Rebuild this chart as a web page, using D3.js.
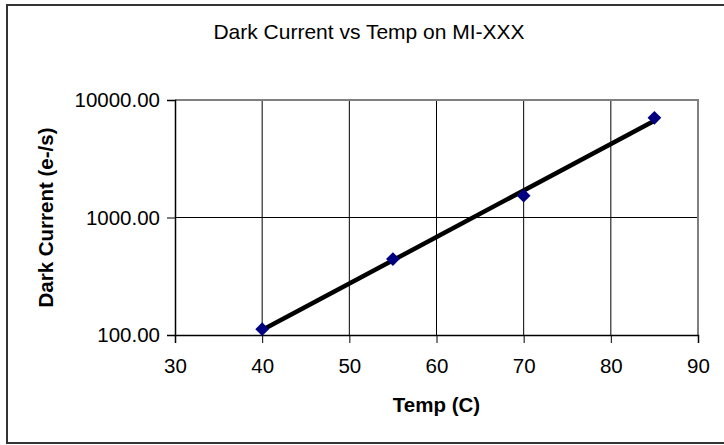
<!DOCTYPE html>
<html>
<head>
<meta charset="utf-8">
<script src="https://cdn.jsdelivr.net/npm/d3@7.9.0/dist/d3.min.js"></script>
<style>
  body { margin: 0; background: #fff; }
  svg { display: block; font-family: "Liberation Sans", Arial, sans-serif; }
</style>
</head>
<body>
<svg id="chart" width="724" height="445"></svg>
<script>
// data
const temps = [40, 55, 70, 85];
const darkCurrent = [112, 443, 1535, 7060];
const xTicks = [30, 40, 50, 60, 70, 80, 90];
const yTicks = [100, 1000, 10000];

const width = 724, height = 445;
const margin = { top: 100, right: 26, bottom: 110, left: 175 };

const svg = d3.select('#chart');

// outer chart frame
svg.append('rect')
  .attr('x', 7).attr('y', 5)
  .attr('width', 730).attr('height', 438)
  .attr('fill', '#fff')
  .attr('stroke', '#333').attr('stroke-width', 2);

const x = d3.scaleLinear()
  .domain([30, 90])
  .range([margin.left, width - margin.right]);

const y = d3.scaleLog()
  .domain([100, 10000])
  .range([height - margin.bottom, margin.top]);

// gridlines
svg.append('g')
  .selectAll('line')
  .data(xTicks.slice(1, -1))
  .join('line')
  .attr('x1', d => x(d)).attr('x2', d => x(d))
  .attr('y1', y(10000)).attr('y2', y(100))
  .attr('stroke', '#000').attr('stroke-width', 1);

svg.append('g')
  .selectAll('line')
  .data(yTicks.slice(1, -1))
  .join('line')
  .attr('x1', x(30)).attr('x2', x(90))
  .attr('y1', d => y(d)).attr('y2', d => y(d))
  .attr('stroke', '#000').attr('stroke-width', 1);

// plot area border (top / right)
svg.append('path')
  .attr('d', `M${x(30)},${y(10000)}H${x(90)}V${y(100)}`)
  .attr('fill', 'none')
  .attr('stroke', '#808080').attr('stroke-width', 2);

// axes
const xAxis = svg.append('g')
  .attr('transform', `translate(0,${y(100)})`)
  .call(d3.axisBottom(x).tickValues(xTicks).tickSize(8).tickPadding(15));

const yAxis = svg.append('g')
  .attr('transform', `translate(${x(30)},0)`)
  .call(d3.axisLeft(y).tickValues(yTicks).tickFormat(d3.format('.2f')).tickSize(8).tickPadding(7));

[xAxis, yAxis].forEach(g => {
  g.select('.domain').attr('stroke', '#000').attr('stroke-width', 1.5);
  g.selectAll('.tick line').attr('stroke', '#000');
  g.selectAll('text')
    .attr('fill', '#000')
    .style('font-size', '20.5px')
    .style('font-family', '"Liberation Sans", Arial, sans-serif');
});

// exponential trendline (least squares on log10 values)
const logs = darkCurrent.map(v => Math.log10(v));
const mx = d3.mean(temps), my = d3.mean(logs);
const slope = d3.sum(temps, (t, i) => (t - mx) * (logs[i] - my)) / d3.sum(temps, t => (t - mx) ** 2);
const fit = t => Math.pow(10, my + slope * (t - mx));

svg.append('line')
  .attr('x1', x(temps[0])).attr('y1', y(fit(temps[0])))
  .attr('x2', x(temps[temps.length - 1])).attr('y2', y(fit(temps[temps.length - 1])))
  .attr('stroke', '#000').attr('stroke-width', 4.5);

// diamond markers
svg.append('g')
  .selectAll('path')
  .data(temps)
  .join('path')
  .attr('transform', (d, i) => `translate(${x(d)},${y(darkCurrent[i])})`)
  .attr('d', d3.symbol().type(d3.symbolDiamond2).size(120))
  .attr('fill', '#000080');

// titles
svg.append('text')
  .attr('x', 369).attr('y', 39)
  .attr('text-anchor', 'middle')
  .style('font-size', '21px')
  .text('Dark Current vs Temp on MI-XXX');

svg.append('text')
  .attr('x', (x(30) + x(90)) / 2).attr('y', 412)
  .attr('text-anchor', 'middle')
  .style('font-size', '20.5px').style('font-weight', 'bold')
  .text('Temp (C)');

svg.append('text')
  .attr('transform', `translate(53,${(y(100) + y(10000)) / 2}) rotate(-90)`)
  .attr('text-anchor', 'middle')
  .style('font-size', '20.5px').style('font-weight', 'bold')
  .text('Dark Current (e-/s)');
</script>
</body>
</html>
